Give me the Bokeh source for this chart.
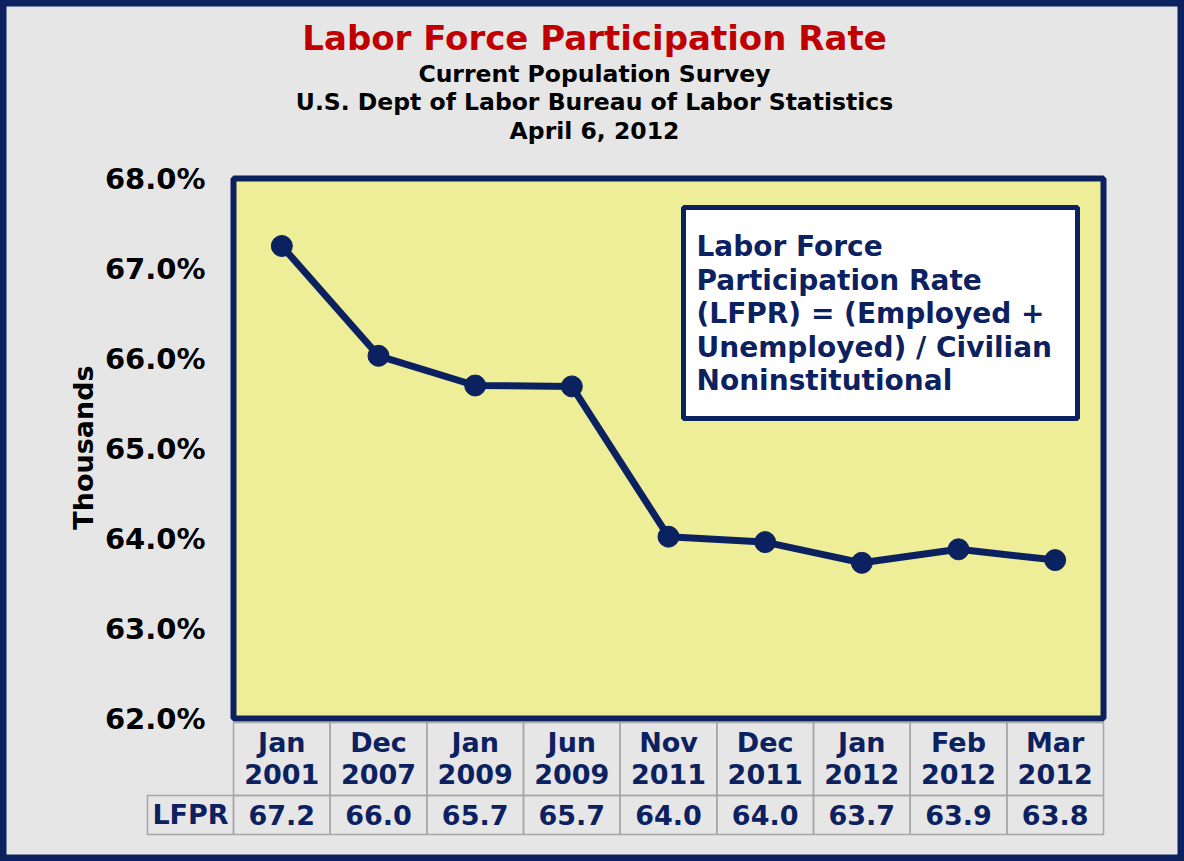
import numpy as np
from bokeh.plotting import figure
from bokeh.models import Range1d, FixedTicker, PrintfTickFormatter
from bokeh.core.properties import value
from bokeh.embed import file_html
from bokeh.resources import INLINE

# ---------------- data ----------------
categories = ["Jan 2001", "Dec 2007", "Jan 2009", "Jun 2009", "Nov 2011",
              "Dec 2011", "Jan 2012", "Feb 2012", "Mar 2012"]
lfpr = [67.25, 66.03, 65.70, 65.69, 64.02, 63.96, 63.73, 63.88, 63.76]
table_values = ["67.2", "66.0", "65.7", "65.7", "64.0", "64.0", "63.7", "63.9", "63.8"]
y_ticks = [62, 63, 64, 65, 66, 67, 68]

title_text = "Labor Force Participation Rate"
subtitles = ["Current Population Survey",
             "U.S. Dept of Labor Bureau of Labor Statistics",
             "April 6, 2012"]
note_lines = ["Labor Force", "Participation Rate", "(LFPR) = (Employed +",
              "Unemployed) / Civilian", "Noninstitutional"]
row_label = "LFPR"
y_title = "Thousands"

# ---------------- style ----------------
NAVY = "#0c2160"
RED = "#c00000"
YELLOW = "#eeee99"
GRAY_BG = "#e6e6e6"
GRID = "#a6a6a6"
FONT = value("DejaVu Sans")

W, H = 1184, 861
X0_PX, COL_PX = 233.0, 96.667   # page px of category 0 edge, px per category
Y68_PX, ROW_PX = 178.0, 90.0    # page px of 68%, px per 1%


def X(px):
    return (px - X0_PX) / COL_PX


def Y(py):
    return y_ticks[-1] - (py - Y68_PX) / ROW_PX


p = figure(width=W, height=H, output_backend="svg", toolbar_location=None,
           x_range=Range1d(X(0), X(W)), y_range=Range1d(Y(H), Y(0)),
           x_axis_location=None, y_axis_location="left", min_border=0,
           title=None)
p.background_fill_color = GRAY_BG
p.border_fill_color = GRAY_BG
p.outline_line_color = NAVY
p.outline_line_width = 12
p.grid.visible = False

ax = p.yaxis[0]
ax.fixed_location = X(217)
ax.ticker = FixedTicker(ticks=y_ticks)
ax.formatter = PrintfTickFormatter(format="%.1f%%")
ax.axis_line_color = None
ax.major_tick_line_color = None
ax.minor_tick_line_color = None
ax.major_label_standoff = 6
ax.major_label_text_font = "DejaVu Sans"
ax.major_label_text_font_style = "bold"
ax.major_label_text_font_size = "29px"
ax.major_label_text_color = "black"

n = len(categories)
xs = [i + 0.5 for i in range(n)]

# plot area
p.quad(left=[0], right=[n], bottom=[y_ticks[0]], top=[y_ticks[-1]],
       fill_color=YELLOW, line_color=NAVY, line_width=6)

# series
p.line(xs, lfpr, line_color=NAVY, line_width=7)
p.scatter(xs, lfpr, size=21, fill_color=NAVY, line_color=NAVY)

# note box
p.quad(left=[X(683)], right=[X(1077)], top=[Y(207)], bottom=[Y(418)],
       fill_color="white", line_color=NAVY, line_width=5)
p.text(x=[X(696)] * len(note_lines), y=[Y(246 + 33.5 * i) for i in range(len(note_lines))],
       text=note_lines, text_font=FONT, text_font_style="bold", text_font_size="28px",
       text_color=NAVY, text_align="left", text_baseline="middle")

# titles
p.text(x=[X(594)], y=[Y(37)], text=[title_text], text_font=FONT, text_font_style="bold",
       text_font_size="34px", text_color=RED, text_align="center", text_baseline="middle")
p.text(x=[X(594)] * 3, y=[Y(73), Y(101), Y(130)], text=subtitles, text_font=FONT,
       text_font_style="bold", text_font_size="23.5px", text_color="black",
       text_align="center", text_baseline="middle")

# y title
p.text(x=[X(83)], y=[Y(447)], text=[y_title], angle=np.pi / 2, text_font=FONT,
       text_font_style="bold", text_font_size="27px", text_color="black",
       text_align="center", text_baseline="middle")

# data table
p.quad(left=list(range(n)), right=[i + 1 for i in range(n)], top=[Y(722)] * n,
       bottom=[Y(795)] * n, fill_color=None, line_color=GRID, line_width=1.5)
p.quad(left=[X(147)] + list(range(n)), right=[0] + [i + 1 for i in range(n)],
       top=[Y(795)] * (n + 1), bottom=[Y(834)] * (n + 1),
       fill_color=None, line_color=GRID, line_width=1.5)

months = [c.split(" ")[0] for c in categories]
years = [c.split(" ")[1] for c in categories]
common = dict(text_font=FONT, text_font_style="bold", text_font_size="27px",
              text_color=NAVY, text_align="center", text_baseline="middle")
p.text(x=xs, y=[Y(742)] * n, text=months, **common)
p.text(x=xs, y=[Y(773)] * n, text=years, **common)
p.text(x=xs, y=[Y(814)] * n, text=table_values, **common)
p.text(x=[X(190)], y=[Y(814)], text=[row_label], **common)

open("out.html", "w").write(file_html(p, INLINE, title_text))
